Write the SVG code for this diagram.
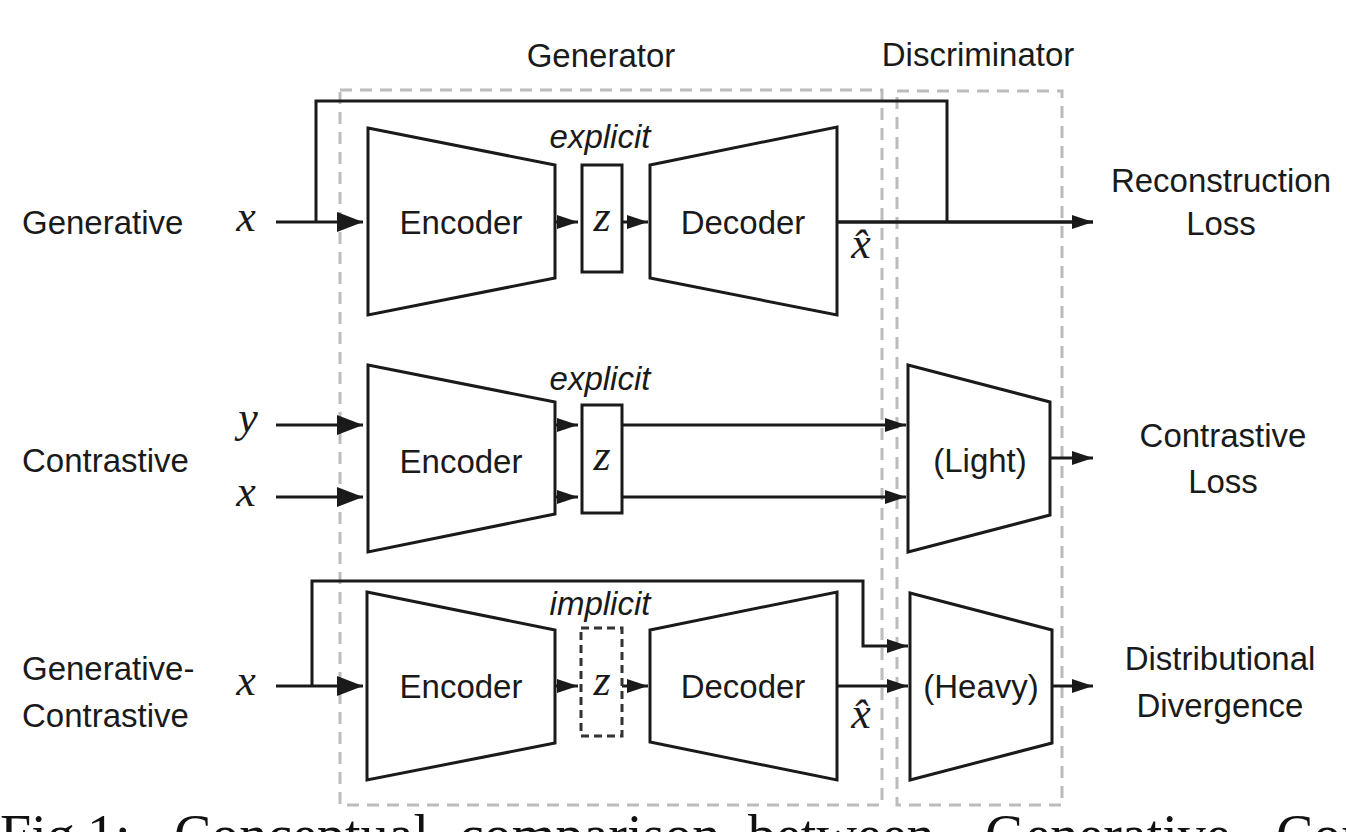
<svg xmlns="http://www.w3.org/2000/svg" width="1346" height="832" viewBox="0 0 1346 832">
<style>
.lbl{font-family:"Liberation Sans",Arial,sans-serif;font-size:33px;fill:#1a1a1a}
.c{text-anchor:middle}
.it{font-style:italic}
.math{font-family:"Liberation Serif","Times New Roman",serif;font-style:italic;font-size:44px;fill:#1a1a1a;text-anchor:middle}
.box{fill:none;stroke:#bcbcbc;stroke-width:3;stroke-dasharray:12 8}
.shape{fill:#fff;stroke:#1a1a1a;stroke-width:3;stroke-linejoin:miter}
.ln{fill:none;stroke:#1a1a1a;stroke-width:3}
.big{marker-end:url(#ah)}
.sm{marker-end:url(#as)}
.cap{font-family:"Liberation Serif","Times New Roman",serif;font-size:56px;fill:#111}
</style>
<defs>
<marker id="ah" viewBox="0 0 26 20" refX="26" refY="10" markerWidth="26" markerHeight="20" orient="auto" markerUnits="userSpaceOnUse"><path d="M0,0 L26,10 L0,20 z" fill="#1a1a1a"/></marker>
<marker id="as" viewBox="0 0 21 14" refX="21" refY="7" markerWidth="21" markerHeight="14" orient="auto" markerUnits="userSpaceOnUse"><path d="M0,0 L21,7 L0,14 z" fill="#1a1a1a"/></marker>
</defs>
<rect width="1346" height="832" fill="#fff"/>

<g id="generator-box">
<rect class="box" x="340" y="90" width="542" height="715"/>
<text class="lbl c" x="601" y="67">Generator</text>
</g>
<g id="discriminator-box">
<rect class="box" x="897" y="91" width="165" height="714"/>
<text class="lbl c" x="978" y="66">Discriminator</text>
</g>

<g id="row-labels">
<text class="lbl" x="22" y="234">Generative</text>
<text class="lbl" x="22" y="472">Contrastive</text>
<text class="lbl" x="22" y="680">Generative-</text>
<text class="lbl" x="22" y="727">Contrastive</text>
</g>

<g id="inputs">
<text class="math" x="246" y="231">x</text>
<text class="math" x="248" y="432">y</text>
<text class="math" x="246" y="506">x</text>
<text class="math" x="246" y="695">x</text>
</g>

<g id="connectors">
<path class="ln big" d="M276,222 H363"/>
<path class="ln" d="M316,222 V101 H947 V222"/>
<path class="ln sm" d="M555,222 H578"/>
<path class="ln sm" d="M622,222 H648"/>
<path class="ln sm" d="M837,222 H1093" style="stroke-width:3.5"/>

<path class="ln big" d="M276,425 H363"/>
<path class="ln big" d="M276,497 H363"/>
<path class="ln sm" d="M555,425 H578"/>
<path class="ln sm" d="M555,497 H578"/>
<path class="ln sm" d="M622,425 H906"/>
<path class="ln sm" d="M622,497 H906"/>
<path class="ln sm" d="M1050,458 H1093"/>

<path class="ln big" d="M276,686 H363"/>
<path class="ln sm" d="M312,686 V581 H863 V646 H908"/>
<path class="ln sm" d="M555,686 H578"/>
<path class="ln sm" d="M622,686 H648"/>
<path class="ln sm" d="M837,686 H908"/>
<path class="ln sm" d="M1052,686 H1093"/>
</g>

<g id="encoder-1">
<path class="shape" d="M368,128 L555,165 L555,278 L368,315 Z"/>
<text class="lbl c" x="461" y="234">Encoder</text>
</g>
<g id="z-1">
<rect class="shape" x="582" y="165" width="40" height="107"/>
<text class="math" x="602" y="231">z</text>
<text class="lbl c it" x="600" y="148">explicit</text>
</g>
<g id="decoder-1">
<path class="shape" d="M650,165 L837,127 L837,315 L650,278 Z"/>
<text class="lbl c" x="743" y="234">Decoder</text>
<text class="math" x="861" y="258">x̂</text>
</g>
<g id="loss-1">
<text class="lbl c" x="1221" y="192">Reconstruction</text>
<text class="lbl c" x="1221" y="235">Loss</text>
</g>

<g id="encoder-2">
<path class="shape" d="M368,365 L555,402 L555,514 L368,552 Z"/>
<text class="lbl c" x="461" y="473">Encoder</text>
</g>
<g id="z-2">
<rect class="shape" x="582" y="405" width="40" height="108"/>
<text class="math" x="602" y="470">z</text>
<text class="lbl c it" x="600" y="390">explicit</text>
</g>
<g id="disc-light">
<path class="shape" d="M908,365 L1050,402 L1050,515 L908,552 Z"/>
<text class="lbl c" x="980" y="472">(Light)</text>
</g>
<g id="loss-2">
<text class="lbl c" x="1223" y="447">Contrastive</text>
<text class="lbl c" x="1223" y="493">Loss</text>
</g>

<g id="encoder-3">
<path class="shape" d="M367,592 L555,630 L555,743 L367,780 Z"/>
<text class="lbl c" x="461" y="698">Encoder</text>
</g>
<g id="z-3">
<rect x="581" y="628" width="41" height="108" fill="#fff" stroke="#333" stroke-width="3" stroke-dasharray="8 5"/>
<text class="math" x="602" y="695">z</text>
<text class="lbl c it" x="600" y="615">implicit</text>
</g>
<g id="decoder-3">
<path class="shape" d="M650,630 L837,592 L837,780 L650,742 Z"/>
<text class="lbl c" x="743" y="698">Decoder</text>
<text class="math" x="861" y="728">x̂</text>
</g>
<g id="disc-heavy">
<path class="shape" d="M910,593 L1052,630 L1052,743 L910,780 Z"/>
<text class="lbl c" x="981" y="698">(Heavy)</text>
</g>
<g id="loss-3">
<text class="lbl c" x="1220" y="670">Distributional</text>
<text class="lbl c" x="1220" y="717">Divergence</text>
</g>

<g id="caption">
<text class="cap" y="854"><tspan x="0">Fig.</tspan><tspan x="87">1:</tspan><tspan x="174">Conceptual</tspan><tspan x="459">comparison</tspan><tspan x="748">between</tspan><tspan x="985">Generative,</tspan><tspan x="1276">Contrastive,</tspan></text>
</g>
</svg>
